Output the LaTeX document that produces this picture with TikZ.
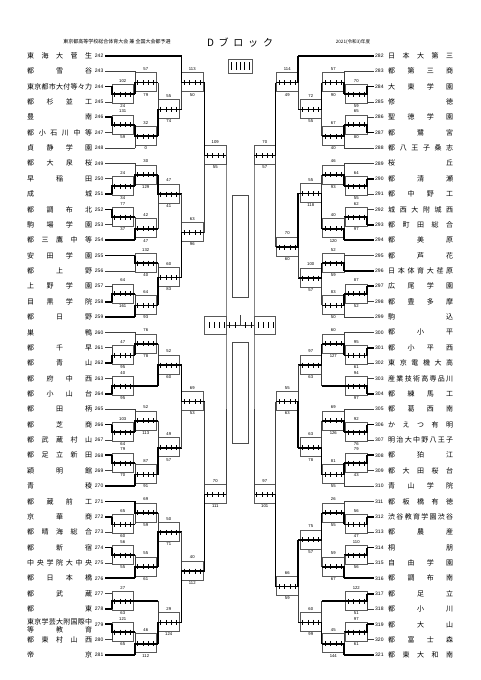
\documentclass[tikz,border=0pt]{standalone}
\usepackage{fontspec}
\setmainfont{Liberation Sans}
\newfontfamily\jp{Noto Sans CJK JP}
\usetikzlibrary{calc}

% spread the letters of a school name over the name column
\def\gobbleone#1{}
\def\spreadloop#1#2{#1\ifx\relax#2\expandafter\gobbleone\else\hfill\expandafter\spreadloop\fi#2}
\newcommand\spread[1]{\makebox[65pt][s]{\spreadloop#1\relax}}

\tikzset{
  winline/.style={line width=1.8pt},
  loseline/.style={line width=0.55pt,black!75},
  boxline/.style={line width=0.4pt,black!65},
  teamname/.style={font=\jp\fontsize{7}{7}\selectfont,inner sep=0pt},
  teamno/.style={font=\fontsize{5}{5}\selectfont,inner sep=0pt},
  score/.style={font=\fontsize{4.2}{4.5}\selectfont,inner sep=0pt},
}
\newcommand\bw{21.5}
% [box height], id, entry x, upper input, lower input, upper score, lower score, upper line, lower line
\newcommand\match[9][]{%
  \coordinate (#2a) at (#3,0 |- #4);
  \coordinate (#2b) at (#3,0 |- #5);
  \if\relax\detokenize{#1}\relax
    \coordinate (#2c) at ($(#2a)!.5!(#2b)$);
  \else
    \coordinate (#2c) at (#3,#1);
  \fi
  \coordinate (#2) at ($(#2c)+(\bw,0)$);
  \draw[boxline] ($(#2c)+(0,-10)$) rectangle ($(#2)+(0,9)$);
  \draw[#8] (#4) -- (#2a);
  \draw[#9] (#5) -- (#2b);
  \ifnum#6>#7
    \draw[loseline] (#2b) -- (#2c); \draw[winline] (#2a) -- (#2c) -- (#2);
  \else
    \draw[loseline] (#2a) -- (#2c); \draw[winline] (#2b) -- (#2c) -- (#2);
  \fi
  \foreach \k in {.125,.375,.625,.875}
    \draw[line width=0.8pt] ($(#2c)!\k!(#2)+(0,-2.5)$) -- ++(0,5);
  \node[score] (#2u) at ($(#2c)!.5!(#2)+(0,-13.5)$) {#6};
  \node[score] (#2d) at ($(#2c)!.5!(#2)+(0,12)$) {#7};
}

\begin{document}
\begin{tikzpicture}[x=1pt,y=-1pt]
\useasboundingbox (0,0) rectangle (481,680);

% heading
\node[font=\jp\fontsize{5}{5}\selectfont] (title) at (117,42) {東京都高等学校総合体育大会 兼 全国大会都予選};
\node[font=\jp\fontsize{10}{10}\selectfont] (block) at (240,43) {\makebox[66pt][s]{D\hfill ブ\hfill ロ\hfill ッ\hfill ク}};
\node[font=\jp\fontsize{4.6}{5}\selectfont] (year) at (353,42) {2021(令和3)年度};

% schools, left half
\foreach \n [count=\i from 242] in {東海大菅生,都雪谷,東京都市大付等々力,都杉並工,豊南,都小石川中等,
  貞静学園,都大泉桜,早稲田,成城,都調布北,駒場学園,都三鷹中等,安田学園,都上野,上野学園,目黒学院,
  都日野,巣鴨,都千早,都青山,都府中西,都小山台,都田柄,都芝商,都武蔵村山,都足立新田,穎明館,青稜,
  都蔵前工,京華商,都晴海総合,都新宿,中央学院大中央,都日本橋,都武蔵,都東,x,都東村山西,帝京}{
  \pgfmathsetmacro\yy{55.7+15.37*(\i-242)}
  \ifnum\i=279 \else
    \node[teamname,anchor=west] (t\i) at (27,\yy) {\expandafter\spread\expandafter{\n}};
  \fi
  \node[teamno,anchor=east] (n\i) at (103.5,\yy) {\i};
  \coordinate (s\i) at (105,\yy);
}
\node[teamname,anchor=west,align=left,font=\jp\fontsize{7}{8.4}\selectfont] (t279) at (27,626)
  {\spread{東京学芸大附国際中}\\\spread{等教育}};

% schools, right half
\foreach \n [count=\i from 282] in {日本大第三,都第三商,大東学園,修徳,聖徳学園,都鷺宮,都八王子桑志,
  桜丘,都清瀬,都中野工,城西大附城西,都町田総合,都美原,都芦花,日本体育大荏原,広尾学園,都豊多摩,
  駒込,都小平,都小平西,東京電機大高,産業技術高専品川,都練馬工,都葛西南,かえつ有明,明治大中野八王子,
  都狛江,都大田桜台,青山学院,都板橋有徳,渋谷教育学園渋谷,都農産,桐朋,自由学園,都調布南,都足立,
  都小川,都大山,都富士森,都東大和南}{
  \pgfmathsetmacro\yy{55.7+15.37*(\i-282)}
  \node[teamname,anchor=west] (t\i) at (388,\yy) {\expandafter\spread\expandafter{\n}};
  \node[teamno,anchor=west] (n\i) at (375,\yy) {\i};
  \coordinate (s\i) at (373.5,\yy);
}

% left half matches
\renewcommand\bw{21.5}
\match{m1}{112}{s244}{s245}{102}{24}{winline}{loseline}
\match{m2}{135}{s243}{m1}{57}{79}{loseline}{winline}
\match{m3}{112}{s246}{s247}{131}{59}{winline}{loseline}
\match{m4}{135}{m3}{s248}{32}{0}{winline}{loseline}
\match{m5}{158}{m2}{m4}{55}{74}{winline}{winline}
\match{m6}{181.5}{s242}{m5}{113}{50}{winline}{winline}
\match{m7}{112}{s250}{s251}{24}{34}{loseline}{winline}
\match{m8}{135}{s249}{m7}{30}{129}{loseline}{winline}
\match{m9}{112}{s252}{s253}{77}{37}{winline}{loseline}
\match{m10}{135}{m9}{s254}{42}{47}{winline}{winline}
\match[194]{m11}{158}{m8}{m10}{47}{41}{winline}{winline}
\match{m12}{135}{s255}{s256}{132}{40}{winline}{loseline}
\match{m13}{112}{s257}{s258}{64}{161}{loseline}{winline}
\match{m14}{135}{m13}{s259}{64}{93}{winline}{winline}
\match[277.5]{m15}{158}{m12}{m14}{60}{83}{winline}{winline}
\match[232.5]{m16}{181.5}{m11}{m15}{63}{96}{winline}{winline}
\match[155.5]{m17}{204.5}{m6}{m16}{109}{55}{winline}{winline}
\match{m18}{112}{s261}{s262}{47}{95}{loseline}{winline}
\match{m19}{135}{s260}{m18}{76}{78}{loseline}{winline}
\match{m20}{112}{s263}{s264}{40}{95}{loseline}{winline}
\match{m21}{158}{m19}{m20}{52}{60}{winline}{winline}
\match{m22}{112}{s266}{s267}{103}{64}{winline}{loseline}
\match{m23}{135}{s265}{m22}{52}{113}{loseline}{winline}
\match{m24}{112}{s268}{s269}{79}{70}{winline}{loseline}
\match{m25}{135}{m24}{s270}{87}{91}{winline}{winline}
\match{m26}{158}{m23}{m25}{49}{57}{winline}{winline}
\match[401.5]{m27}{181.5}{m21}{m26}{69}{53}{winline}{winline}
\match{m28}{112}{s272}{s273}{65}{60}{winline}{loseline}
\match{m29}{135}{s271}{m28}{69}{59}{winline}{winline}
\match{m30}{112}{s274}{s275}{56}{55}{winline}{loseline}
\match{m31}{135}{m30}{s276}{55}{61}{winline}{winline}
\match[532.3]{m32}{158}{m29}{m31}{50}{71}{winline}{winline}
\match{m33}{112}{s277}{s278}{27}{63}{loseline}{winline}
\match{m34}{112}{s279}{s280}{121}{65}{winline}{loseline}
\match{m35}{135}{m34}{s281}{46}{112}{winline}{winline}
\match{m36}{158}{m33}{m35}{29}{124}{winline}{winline}
\match[571]{m37}{181.5}{m32}{m36}{40}{112}{winline}{winline}
\match[494.5]{m38}{204.5}{m27}{m37}{70}{111}{winline}{winline}

% right half matches
\renewcommand\bw{-21.5}
\match{r1}{367}{s284}{s285}{70}{59}{winline}{loseline}
\match{r2}{344}{s283}{r1}{57}{90}{loseline}{winline}
\match{r3}{367}{s286}{s287}{65}{80}{loseline}{winline}
\match{r4}{344}{r3}{s288}{67}{40}{winline}{loseline}
\match{r5}{321.5}{r2}{r4}{72}{55}{winline}{winline}
\match{r6}{298}{s282}{r5}{114}{49}{winline}{winline}
\match{r7}{367}{s290}{s291}{64}{55}{winline}{loseline}
\match{r8}{344}{s289}{r7}{46}{93}{loseline}{winline}
\match{r9}{367}{s292}{s293}{62}{97}{loseline}{winline}
\match{r10}{344}{r9}{s294}{40}{120}{winline}{winline}
\match[193.4]{r11}{321.5}{r8}{r10}{55}{118}{winline}{winline}
\match{r12}{344}{s295}{s296}{52}{59}{loseline}{winline}
\match{r13}{367}{s297}{s298}{87}{52}{winline}{loseline}
\match{r14}{344}{r13}{s299}{83}{50}{winline}{loseline}
\match[278]{r15}{321.5}{r12}{r14}{100}{57}{winline}{winline}
\match[247]{r16}{298}{r11}{r15}{70}{60}{winline}{winline}
\match[155.5]{r17}{275.5}{r6}{r16}{70}{57}{winline}{winline}
\match{r18}{367}{s301}{s302}{95}{61}{winline}{loseline}
\match{r19}{344}{s300}{r18}{60}{127}{loseline}{winline}
\match{r20}{367}{s303}{s304}{94}{97}{loseline}{winline}
\match{r21}{321.5}{r19}{r20}{97}{63}{winline}{winline}
\match{r22}{367}{s306}{s307}{92}{76}{winline}{loseline}
\match{r23}{344}{s305}{r22}{69}{126}{loseline}{winline}
\match{r24}{367}{s308}{s309}{79}{43}{winline}{loseline}
\match{r25}{344}{r24}{s310}{81}{55}{winline}{loseline}
\match{r26}{321.5}{r23}{r25}{63}{78}{winline}{winline}
\match[401.5]{r27}{298}{r21}{r26}{55}{63}{winline}{winline}
\match{r28}{367}{s312}{s313}{56}{47}{winline}{loseline}
\match{r29}{344}{s311}{r28}{26}{55}{loseline}{winline}
\match{r30}{367}{s314}{s315}{110}{56}{winline}{loseline}
\match{r31}{344}{r30}{s316}{59}{67}{winline}{winline}
\match{r32}{321.5}{r29}{r31}{75}{57}{winline}{winline}
\match{r33}{367}{s317}{s318}{122}{51}{winline}{loseline}
\match{r34}{367}{s319}{s320}{97}{61}{winline}{loseline}
\match{r35}{344}{r34}{s321}{45}{144}{winline}{winline}
\match{r36}{321.5}{r33}{r35}{60}{99}{winline}{winline}
\match[586.5]{r37}{298}{r32}{r36}{66}{59}{winline}{winline}
\match[494.5]{r38}{275.5}{r27}{r37}{97}{101}{winline}{winline}

% block final
\coordinate (finL) at (226,325);
\coordinate (finR) at (254,325);
\draw[loseline] (m17) -- (finL) -- (m38);
\draw[loseline] (r17) -- (finR) -- (r38);
\draw[boxline] (204.5,316) rectangle (226,334);
\draw[boxline] (254,316) rectangle (275.5,334);
\draw[loseline] (finL) -- (finR);
\draw[loseline] (240,325) -- (240,315);
\foreach \xx in {209,214,219,224,229,235,245,251,258,263,268,273}
  \draw[line width=0.6pt] (\xx,322) -- (\xx,328);
\draw[line width=1pt,black!70] (232,195) rectangle (248,297);
\draw[line width=1pt,black!70] (232,342) rectangle (248,443);
\draw[boxline] (228,59) rectangle (252,73);
\foreach \xx in {231,236,240,244,249}
  \draw[line width=0.6pt] (\xx,62) -- (\xx,70);
\end{tikzpicture}
\end{document}
